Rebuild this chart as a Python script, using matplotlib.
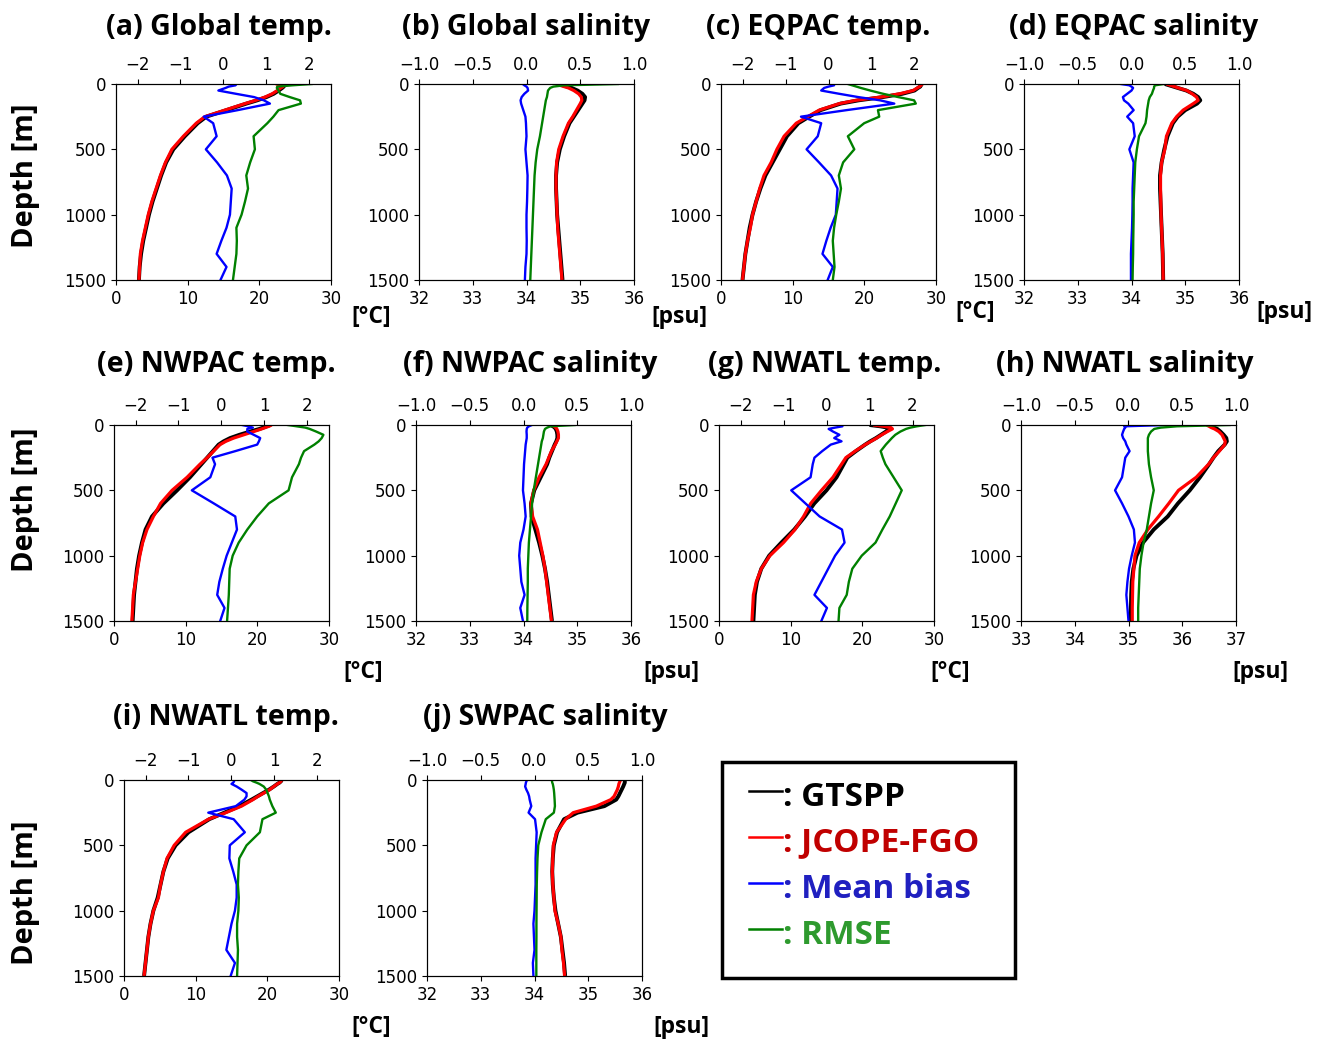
import matplotlib
matplotlib.use("Agg")
import matplotlib.pyplot as plt
from matplotlib.lines import Line2D
from matplotlib.patches import Rectangle

# standard depth levels [m]
depth = [0, 10, 20, 30, 50, 75, 100, 125, 150, 200, 250, 300,
         400, 500, 600, 700, 800, 900, 1000, 1100, 1200, 1300, 1400, 1500]

# (a) Global temp.
a_gtspp = [23.0, 23.5, 23.4, 23.2, 22.7, 22.0, 21.0, 19.7, 18.2, 15.4, 12.6, 11.4,
           9.6, 8.0, 7.0, 6.3, 5.7, 5.1, 4.6, 4.2, 3.8, 3.5, 3.3, 3.2]
a_jcope = [22.3, 23.4, 23.3, 23.0, 22.5, 21.8, 20.8, 19.5, 18.0, 15.2, 12.4, 11.2,
           9.4, 7.8, 6.9, 6.2, 5.6, 5.0, 4.5, 4.1, 3.7, 3.4, 3.3, 3.2]
a_bias = [0.30, 0.28, 0.12, 0.05, -0.12, 0.29, 0.71, 0.94, 1.08, 0.33, -0.46, -0.24,
          -0.16, -0.41, -0.15, 0.08, 0.19, 0.17, 0.15, 0.07, -0.05, -0.16, 0.07, -0.07]
a_rmse = [2.05, 1.6, 1.25, 1.24, 1.28, 1.32, 1.54, 1.78, 1.80, 1.28, 1.16, 1.02,
          0.70, 0.73, 0.62, 0.53, 0.57, 0.50, 0.42, 0.30, 0.31, 0.30, 0.26, 0.22]

# (b) Global salinity
b_gtspp = [34.60, 34.68, 34.76, 34.84, 34.95, 35.04, 35.09, 35.08, 35.04, 34.96, 34.88, 34.80,
           34.70, 34.62, 34.57, 34.55, 34.55, 34.56, 34.57, 34.59, 34.61, 34.63, 34.65, 34.67]
b_jcope = [34.55, 34.62, 34.70, 34.78, 34.88, 34.97, 35.02, 35.03, 35.00, 34.93, 34.86, 34.78,
           34.68, 34.60, 34.56, 34.55, 34.55, 34.56, 34.57, 34.58, 34.60, 34.62, 34.64, 34.66]
b_bias = [-0.035, -0.02, 0.0, 0.01, 0.015, -0.02, -0.045, -0.055, -0.05, -0.03, -0.01, -0.005,
          0.0, -0.01, 0.0, 0.01, 0.008, 0.005, 0.0, 0.0, 0.002, 0.0, -0.01, -0.015]
b_rmse = [0.85, 0.35, 0.25, 0.22, 0.20, 0.195, 0.19, 0.18, 0.175, 0.165, 0.155, 0.145,
          0.125, 0.10, 0.085, 0.075, 0.07, 0.065, 0.06, 0.055, 0.05, 0.045, 0.04, 0.035]

# (c) EQPAC temp.
c_gtspp = [28.0, 27.9, 27.8, 27.5, 27.0, 25.3, 22.6, 19.2, 16.7, 13.9, 12.3, 10.8,
           9.2, 8.2, 7.2, 6.2, 5.5, 4.9, 4.4, 4.0, 3.7, 3.4, 3.2, 3.0]
c_jcope = [28.1, 27.9, 27.7, 27.4, 26.8, 24.9, 22.3, 18.8, 16.5, 13.7, 12.1, 10.5,
           8.8, 7.8, 7.0, 6.0, 5.4, 4.9, 4.4, 4.1, 3.7, 3.4, 3.2, 3.0]
c_bias = [0.10, 0.13, 0.0, -0.10, -0.17, 0.25, 0.69, 1.2, 1.53, 0.42, -0.64, -0.17,
          -0.25, -0.51, -0.22, 0.06, 0.21, 0.19, 0.17, 0.05, -0.05, -0.14, 0.10, -0.02]
c_rmse = [0.45, 0.55, 0.65, 0.75, 0.97, 1.27, 1.62, 1.99, 2.03, 1.15, 1.18, 0.83,
          0.45, 0.60, 0.34, 0.24, 0.29, 0.24, 0.18, 0.13, 0.10, 0.12, 0.14, 0.10]

# (d) EQPAC salinity
d_gtspp = [34.62, 34.70, 34.78, 34.86, 35.02, 35.15, 35.24, 35.28, 35.22, 35.00, 34.86, 34.77,
           34.67, 34.61, 34.56, 34.53, 34.53, 34.54, 34.55, 34.56, 34.57, 34.58, 34.585, 34.59]
d_jcope = [34.65, 34.72, 34.80, 34.87, 35.03, 35.13, 35.21, 35.24, 35.15, 34.96, 34.84, 34.75,
           34.65, 34.62, 34.56, 34.54, 34.54, 34.545, 34.55, 34.56, 34.57, 34.58, 34.585, 34.59]
d_bias = [-0.10, -0.02, 0.0, 0.015, 0.0, -0.04, -0.08, -0.07, -0.03, 0.02, -0.04, 0.015,
          0.03, -0.02, 0.02, 0.015, 0.01, 0.01, 0.008, 0.005, 0.0, -0.005, -0.005, -0.005]
d_rmse = [0.30, 0.22, 0.21, 0.21, 0.20, 0.19, 0.17, 0.16, 0.155, 0.145, 0.14, 0.13,
          0.07, 0.05, 0.035, 0.03, 0.025, 0.02, 0.02, 0.018, 0.016, 0.015, 0.012, 0.01]

# (e) NWPAC temp.
e_gtspp = [21.8, 21.3, 20.8, 20.3, 19.0, 17.5, 16.2, 15.3, 14.6, 13.8, 13.0, 12.2,
           10.6, 8.8, 6.9, 5.3, 4.4, 3.9, 3.5, 3.2, 3.0, 2.8, 2.7, 2.6]
e_jcope = [22.0, 21.6, 21.1, 20.6, 19.5, 18.1, 16.7, 15.6, 14.8, 13.9, 13.0, 12.0,
           10.2, 8.1, 6.5, 5.5, 4.6, 4.0, 3.6, 3.3, 3.0, 2.7, 2.6, 2.5]
e_bias = [0.48, 0.62, 0.73, 0.60, 0.60, 0.75, 0.90, 0.87, 0.83, 0.32, -0.21, -0.15,
          -0.26, -0.69, -0.18, 0.32, 0.36, 0.24, 0.12, 0.03, -0.05, -0.10, 0.07, -0.03]
e_rmse = [1.54, 1.75, 1.95, 2.05, 2.20, 2.37, 2.33, 2.26, 2.16, 1.92, 1.85, 1.80,
          1.64, 1.56, 1.10, 0.83, 0.60, 0.40, 0.26, 0.19, 0.18, 0.17, 0.15, 0.13]

# (f) NWPAC salinity
f_gtspp = [34.50, 34.55, 34.58, 34.60, 34.62, 34.63, 34.63, 34.61, 34.58, 34.53, 34.48, 34.44,
           34.32, 34.20, 34.14, 34.15, 34.22, 34.29, 34.35, 34.40, 34.44, 34.47, 34.50, 34.53]
f_jcope = [34.52, 34.57, 34.60, 34.62, 34.64, 34.65, 34.65, 34.62, 34.59, 34.52, 34.47, 34.42,
           34.29, 34.19, 34.14, 34.17, 34.26, 34.31, 34.36, 34.40, 34.43, 34.46, 34.49, 34.52]
f_bias = [0.078, 0.05, 0.035, 0.03, 0.028, 0.03, 0.03, 0.025, 0.02, 0.015, 0.01, 0.005,
          0.0, -0.005, 0.01, 0.02, 0.0, -0.03, -0.04, -0.03, -0.02, 0.01, -0.03, -0.005]
f_rmse = [0.476, 0.25, 0.22, 0.20, 0.19, 0.185, 0.18, 0.17, 0.165, 0.155, 0.145, 0.135,
          0.115, 0.095, 0.08, 0.07, 0.06, 0.05, 0.045, 0.04, 0.04, 0.038, 0.036, 0.035]

# (g) NWATL temp.
g_gtspp = [21.0, 22.5, 23.5, 23.8, 23.3, 22.6, 21.9, 21.1, 20.4, 19.1, 17.9, 17.4,
           16.4, 15.0, 13.3, 12.0, 10.5, 8.7, 7.0, 5.9, 5.3, 5.0, 4.9, 4.8]
g_jcope = [21.5, 23.0, 24.0, 24.2, 23.5, 22.7, 22.0, 21.2, 20.4, 19.0, 17.7, 17.1,
           15.9, 14.3, 12.8, 11.8, 10.6, 9.0, 7.1, 5.9, 5.2, 4.8, 4.7, 4.6]
g_bias = [0.37, 0.37, 0.20, 0.05, 0.15, 0.30, 0.18, 0.35, 0.10, -0.10, -0.28, -0.32,
          -0.37, -0.82, -0.49, -0.16, 0.36, 0.42, 0.20, 0.04, -0.12, -0.28, 0.01, -0.12]
g_rmse = [2.30, 2.10, 1.95, 1.85, 1.72, 1.60, 1.52, 1.45, 1.38, 1.26, 1.31, 1.37,
          1.56, 1.75, 1.61, 1.47, 1.30, 1.14, 0.82, 0.60, 0.52, 0.47, 0.30, 0.28]

# (h) NWATL salinity
h_gtspp = [36.50, 36.55, 36.60, 36.65, 36.71, 36.77, 36.82, 36.83, 36.79, 36.67, 36.58, 36.50,
           36.33, 36.14, 35.92, 35.73, 35.47, 35.27, 35.15, 35.09, 35.06, 35.05, 35.045, 35.04]
h_jcope = [36.45, 36.50, 36.54, 36.60, 36.68, 36.74, 36.77, 36.80, 36.79, 36.69, 36.58, 36.49,
           36.26, 35.93, 35.75, 35.56, 35.36, 35.20, 35.12, 35.10, 35.08, 35.075, 35.07, 35.07]
h_bias = [0.35, -0.04, -0.03, -0.04, -0.05, -0.06, -0.05, -0.03, -0.02, 0.01, -0.03, -0.04,
          -0.06, -0.125, -0.06, 0.0, 0.05, 0.06, 0.03, 0.005, -0.01, -0.02, -0.01, 0.0]
h_rmse = [0.94, 0.45, 0.30, 0.24, 0.21, 0.19, 0.18, 0.18, 0.18, 0.18, 0.185, 0.19,
          0.21, 0.235, 0.21, 0.19, 0.17, 0.14, 0.12, 0.105, 0.10, 0.095, 0.09, 0.09]

# (i) NWATL temp.
i_gtspp = [22.0, 21.9, 21.7, 21.4, 20.9, 20.2, 19.4, 18.6, 17.8, 16.1, 14.0, 11.9,
           9.0, 7.2, 6.1, 5.5, 5.1, 4.7, 4.1, 3.7, 3.4, 3.2, 3.0, 2.8]
i_jcope = [22.0, 21.9, 21.7, 21.4, 20.9, 20.3, 19.5, 18.7, 18.0, 16.4, 14.2, 11.8,
           8.6, 7.0, 6.0, 5.5, 5.1, 4.8, 4.1, 3.7, 3.4, 3.2, 3.0, 2.8]
i_bias = [0.06, 0.06, 0.04, 0.0, 0.12, 0.24, 0.35, 0.35, 0.30, 0.10, -0.54, 0.05,
          0.31, -0.04, -0.05, 0.04, 0.12, 0.12, 0.08, 0.0, -0.06, -0.12, 0.08, -0.02]
i_rmse = [0.45, 0.50, 0.58, 0.65, 0.75, 0.81, 0.84, 0.87, 0.89, 0.95, 1.03, 0.72,
          0.66, 0.35, 0.18, 0.16, 0.15, 0.17, 0.16, 0.13, 0.13, 0.15, 0.14, 0.13]

# (j) SWPAC salinity
j_gtspp = [35.68, 35.68, 35.68, 35.67, 35.65, 35.62, 35.59, 35.56, 35.52, 35.30, 34.80, 34.55,
           34.42, 34.36, 34.34, 34.33, 34.34, 34.36, 34.39, 34.44, 34.49, 34.52, 34.55, 34.57]
j_jcope = [35.60, 35.59, 35.58, 35.57, 35.56, 35.54, 35.51, 35.48, 35.42, 35.15, 34.72, 34.58,
           34.41, 34.35, 34.34, 34.33, 34.34, 34.36, 34.38, 34.44, 34.49, 34.51, 34.54, 34.56]
j_bias = [-0.07, -0.075, -0.08, -0.082, -0.087, -0.075, -0.06, -0.05, -0.045, -0.03, -0.055, 0.005,
          0.02, 0.015, 0.01, 0.01, 0.01, 0.005, 0.0, -0.01, -0.005, 0.0, -0.015, -0.01]
j_rmse = [0.16, 0.163, 0.165, 0.17, 0.175, 0.18, 0.183, 0.185, 0.187, 0.19, 0.18, 0.105,
          0.065, 0.035, 0.028, 0.024, 0.021, 0.02, 0.019, 0.018, 0.018, 0.017, 0.017, 0.017]

titles = ["(a) Global temp.", "(b) Global salinity", "(c) EQPAC temp.", "(d) EQPAC salinity",
          "(e) NWPAC temp.", "(f) NWPAC salinity", "(g) NWATL temp.", "(h) NWATL salinity",
          "(i) NWATL temp.", "(j) SWPAC salinity"]
kinds = ["T", "S", "T", "S", "T", "S", "T", "S", "T", "S"]
gtspp = [a_gtspp, b_gtspp, c_gtspp, d_gtspp, e_gtspp, f_gtspp, g_gtspp, h_gtspp, i_gtspp, j_gtspp]
jcope = [a_jcope, b_jcope, c_jcope, d_jcope, e_jcope, f_jcope, g_jcope, h_jcope, i_jcope, j_jcope]
bias = [a_bias, b_bias, c_bias, d_bias, e_bias, f_bias, g_bias, h_bias, i_bias, j_bias]
rmse = [a_rmse, b_rmse, c_rmse, d_rmse, e_rmse, f_rmse, g_rmse, h_rmse, i_rmse, j_rmse]
sal_ranges = {1: (32, 36), 3: (32, 36), 5: (32, 36), 7: (33, 37), 9: (32, 36)}

legend_names = ["GTSPP", "JCOPE-FGO", "Mean bias", "RMSE"]
legend_line_colors = ["black", "red", "blue", "green"]
legend_text_colors = ["black", "#C00000", "#2020C0", "#2E9A2E"]

# layout in pixels (left, top, right, bottom)
W, H = 1325, 1041
boxes = [(116, 84, 331, 280), (419, 84, 634, 280), (721, 84, 936, 280), (1024, 84, 1239, 280),
         (114, 425, 329, 621), (416, 425, 631, 621), (719, 425, 934, 621), (1021, 425, 1236, 621),
         (124, 780, 339, 976), (427, 780, 642, 976)]
title_pos = [(219, 35), (526, 35), (818, 35), (1134, 35),
             (216, 372), (530, 372), (825, 372), (1125, 372),
             (226, 725), (545, 725)]
unit_pos = [(371, 317), (679, 317), (975, 312), (1284, 312),
            (363, 672), (671, 672), (950, 672), (1260, 672),
            (371, 1027), (681, 1027)]
ylabel_pos = [(25, 176), (25, 500), (25, 893)]

TFONT = "Open Sans"

fig = plt.figure(figsize=(W / 100, H / 100), dpi=100)


def fx(px):
    return px / W


def fy(py):
    return 1 - py / H


for k in range(10):
    l, t, r, b = boxes[k]
    ax = fig.add_axes([fx(l), fy(b), (r - l) / W, (b - t) / H])
    ax.plot(gtspp[k], depth, color="black", lw=2.8, solid_capstyle="butt")
    ax.plot(jcope[k], depth, color="red", lw=2.3, solid_capstyle="butt")
    ax.set_ylim(1500, 0)
    ax.set_yticks([0, 500, 1000, 1500])
    if kinds[k] == "T":
        ax.set_xlim(0, 30)
        ax.set_xticks([0, 10, 20, 30])
    else:
        lo, hi = sal_ranges[k]
        ax.set_xlim(lo, hi)
        ax.set_xticks(range(lo, hi + 1))
    ax.tick_params(labelsize=12)

    ax2 = ax.twiny()
    ax2.plot(bias[k], depth, color="blue", lw=1.7)
    ax2.plot(rmse[k], depth, color="green", lw=1.7)
    if kinds[k] == "T":
        ax2.set_xlim(-2.5, 2.5)
        ax2.set_xticks([-2, -1, 0, 1, 2])
    else:
        ax2.set_xlim(-1, 1)
        ax2.set_xticks([-1.0, -0.5, 0.0, 0.5, 1.0])
    ax2.set_ylim(1500, 0)
    ax2.tick_params(labelsize=12)

    fig.text(fx(title_pos[k][0]), fy(title_pos[k][1]), titles[k], family=TFONT,
             weight="bold", fontsize=20.5, ha="center", va="baseline")
    unit = "[°C]" if kinds[k] == "T" else "[psu]"
    fig.text(fx(unit_pos[k][0]), fy(unit_pos[k][1]), unit, family=TFONT,
             weight="bold", fontsize=16.5, ha="center", va="center")

for x, y in ylabel_pos:
    fig.text(fx(x), fy(y), "Depth [m]", family=TFONT, weight="bold", fontsize=21,
             rotation=90, ha="center", va="center")

# legend box
fig.patches.append(Rectangle((fx(722), fy(978)), (1015 - 722) / W, (978 - 762) / H,
                             transform=fig.transFigure, fill=False, edgecolor="black", lw=2.5))
for n in range(4):
    yl = 791 + 46 * n
    fig.lines.append(Line2D([fx(749), fx(782)], [fy(yl), fy(yl)], transform=fig.transFigure,
                            color=legend_line_colors[n], lw=1.8))
    fig.text(fx(783), fy(yl + 6), ": " + legend_names[n], family=TFONT, weight="bold",
             fontsize=24, color=legend_text_colors[n], ha="left", va="center")

fig.savefig("out.png", dpi=100)
